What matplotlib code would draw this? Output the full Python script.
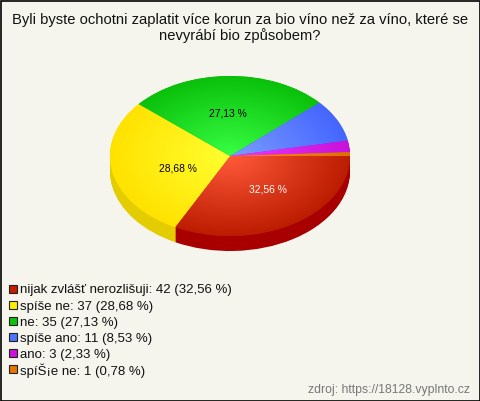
# -*- coding: utf-8 -*-
import numpy as np
import matplotlib
matplotlib.use('Agg')
import matplotlib.pyplot as plt
from matplotlib.colors import LinearSegmentedColormap
from matplotlib.patches import Rectangle

plt.rcParams['font.family'] = ['Liberation Sans', 'DejaVu Sans']

title = 'Byli byste ochotni zaplatit více korun za bio víno než za víno, které se\nnevyrábí bio způsobem?'
source = 'zdroj: https://18128.vyplnto.cz'

# answers
answers = ['nijak zvlášť nerozlišuji', 'spíše ne', 'ne', 'spíše ano', 'ano', 'spíŠ¡e ne']
counts = [42, 37, 35, 11, 3, 1]
percents = ['32,56', '28,68', '27,13', '8,53', '2,33', '0,78']

# colours
legend_colors = ['#C41E00', '#FFEE00', '#0CC40C', '#4C74FF', '#CC11DD', '#E87500']
inner_colors = ['#FF5A3A', '#FFFF30', '#38FF44', '#7C9CFF', '#EE35FF', '#FF8A25']
outer_colors = ['#BC1C00', '#FFE200', '#0AC00A', '#4466FF', '#C812D8', '#E07000']
side_colors = ['#A80000', '#E3CC00', '#089008', '#3350C0', '#9A0CA8', '#B05500']
label_colors = ['white', 'black', 'black', 'black', 'black', 'black']

W, H = 480, 401
bg = '#F5F5EE'
fig = plt.figure(figsize=(W / 100, H / 100), dpi=100, facecolor=bg)

# pie axes, stretched so that the circle turns into the ellipse
cx, cy, rx, ry, depth = 230, 156, 120, 80, 15
aw, ah = rx * 2.5, ry * 2.5
ax = fig.add_axes([(cx - aw / 2) / W, 1 - (cy + ah / 2) / H, aw / W, ah / H])

# side of the pie
for d in np.arange(depth, 0, -1):
    ax.pie(counts, colors=side_colors, startangle=0, counterclock=False,
           center=(0, -d / ry), radius=1)


def fmt(p):
    # small slices get no label
    if p < 10:
        return ''
    return ('%.2f %%' % p).replace('.', ',')


wedges, texts, autotexts = ax.pie(counts, colors=outer_colors, startangle=0, counterclock=False,
                                  autopct=fmt, pctdistance=0.52, radius=1,
                                  textprops={'fontsize': 7.4})
ax.set_aspect('auto')

# radial shine on each slice
yy, xx = np.mgrid[-1:1:400j, -1:1:400j]
rr = np.clip(np.sqrt(xx ** 2 + yy ** 2), 0, 1)
for w, c1, c2 in zip(wedges, inner_colors, outer_colors):
    cm = LinearSegmentedColormap.from_list('g', [c1, c2])
    im = ax.imshow(rr, extent=(-1, 1, -1, 1), cmap=cm, vmin=0, vmax=1, aspect='auto',
                   origin='lower', zorder=w.get_zorder() + 0.1, interpolation='bilinear')
    im.set_clip_path(w)
ax.set_xlim(-1.25, 1.25)
ax.set_ylim(-1.25, 1.25)

# nudge of the labels, in pixels
nudges = [(5, 2), (9, -4), (-1, 1), (0, 0), (0, 0), (0, 0)]
for t, c, (nx, ny) in zip(autotexts, label_colors, nudges):
    t.set_color(c)
    t.set_zorder(10)
    px, py = t.get_position()
    t.set_position((px + nx / rx, py + ny / ry))

# overlay in pixels for title, legend and frame
over = fig.add_axes([0, 0, 1, 1], facecolor='none')
over.set_xlim(0, W)
over.set_ylim(H, 0)
over.axis('off')

over.text(240, 28, title, ha='center', va='center', fontsize=10.65, color='#111111', linespacing=1.12)

for i, (a, n, p) in enumerate(zip(answers, counts, percents)):
    y = 288.5 + i * 16.1
    over.add_patch(Rectangle((9, y - 4), 8, 8, facecolor=legend_colors[i], edgecolor='#222222', lw=0.8))
    over.text(20, y + 2, '%s: %d (%s %%)' % (a, n, p), ha='left', va='center', fontsize=9.5, color='#111111')

over.text(470, 389.5, source, ha='right', va='center', fontsize=8.8, color='#777777')

over.add_patch(Rectangle((0.5, 0.5), W - 1, H - 1, fill=False, edgecolor='black', lw=1.2))

fig.savefig('out.png', dpi=100, facecolor=bg)
